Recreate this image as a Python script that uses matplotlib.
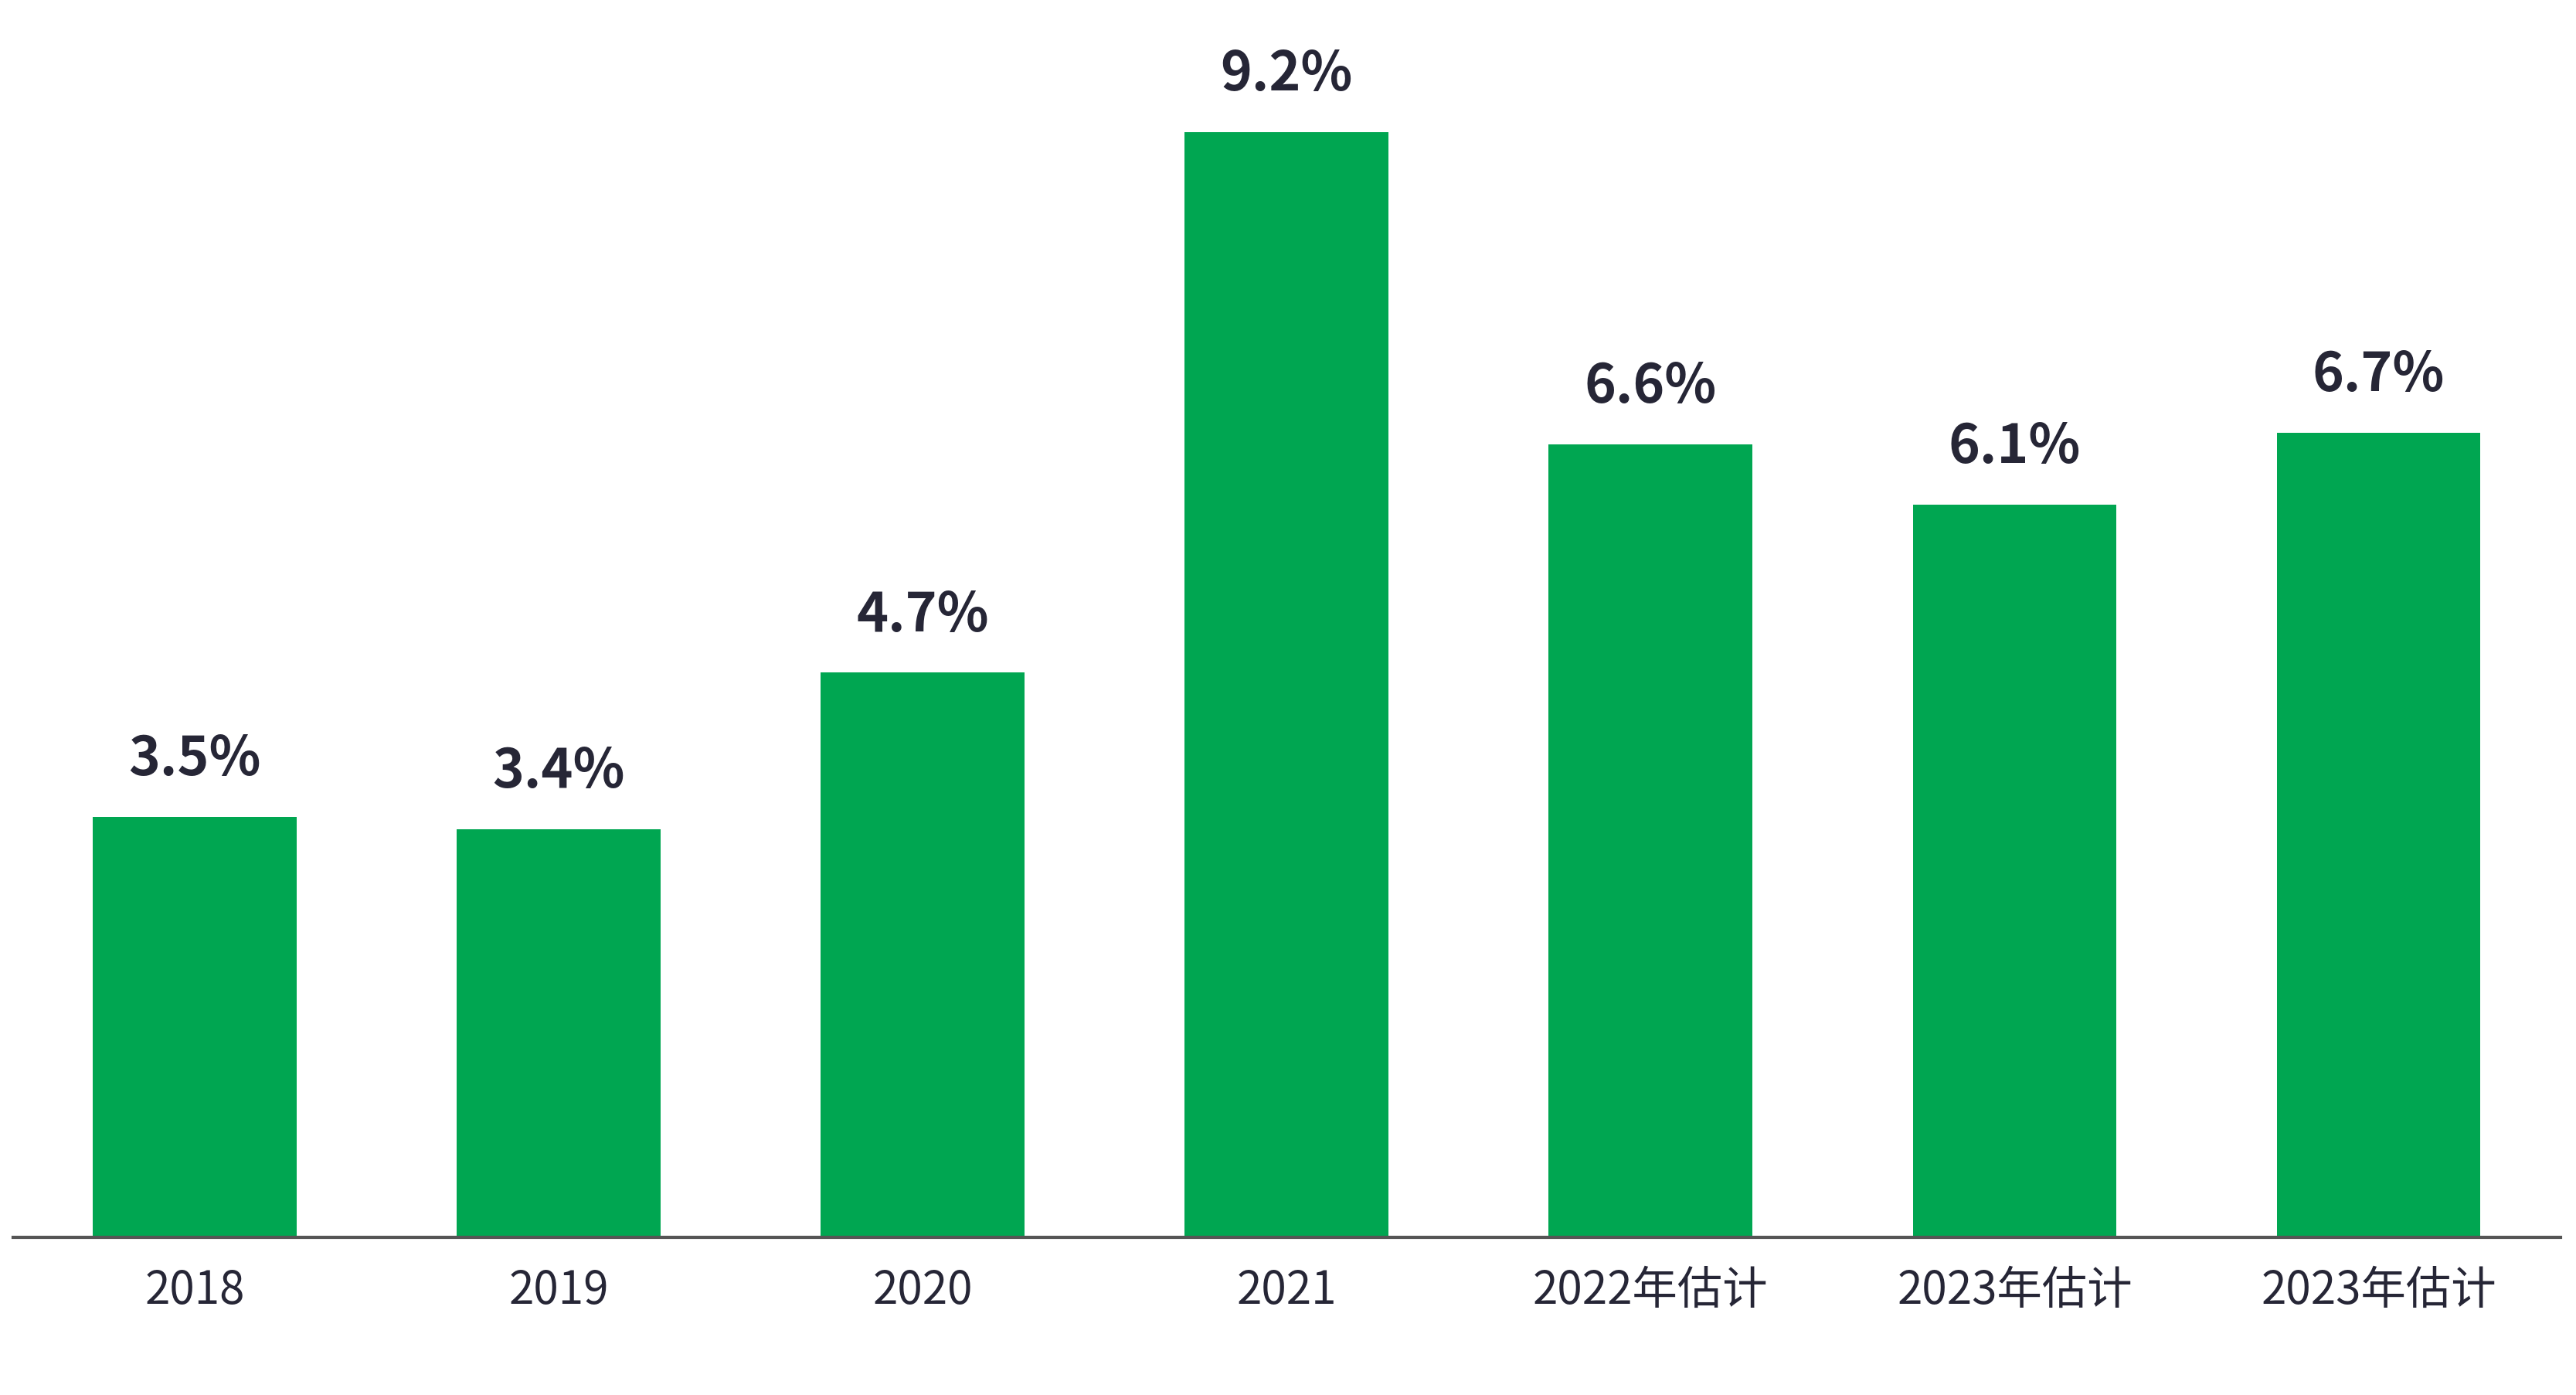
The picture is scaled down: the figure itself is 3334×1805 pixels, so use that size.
import matplotlib
matplotlib.use("Agg")
import matplotlib.pyplot as plt

categories = ["2018", "2019", "2020", "2021", "2022年估计", "2023年估计", "2023年估计"]
values = [3.5, 3.4, 4.7, 9.2, 6.6, 6.1, 6.7]
labels = ["3.5%", "3.4%", "4.7%", "9.2%", "6.6%", "6.1%", "6.7%"]

plt.rcParams["font.family"] = ["Noto Sans CJK SC", "DejaVu Sans"]
fig = plt.figure(figsize=(16.67, 9.025), dpi=200)
ax = fig.add_axes([0.005, 0.113, 0.989, 0.887])
x = range(len(categories))
ax.bar(x, values, width=0.56, color="#00A651")
for i, (v, l) in enumerate(zip(values, labels)):
    ax.text(i, v + 0.25, l, ha="center", va="bottom", fontsize=25,
            fontweight="bold", color="#262636")
ax.set_xlim(-0.5, 6.5)
ax.set_ylim(0, 10.3)
ax.set_xticks(list(x))
ax.set_xticklabels(categories, fontsize=21, color="#262636")
ax.tick_params(axis="x", length=0, pad=14)
ax.set_yticks([])
for s in ["top", "right", "left"]:
    ax.spines[s].set_visible(False)
ax.spines["bottom"].set_color("#555555")
ax.spines["bottom"].set_linewidth(1.5)
fig.savefig("out.png", dpi=200)
